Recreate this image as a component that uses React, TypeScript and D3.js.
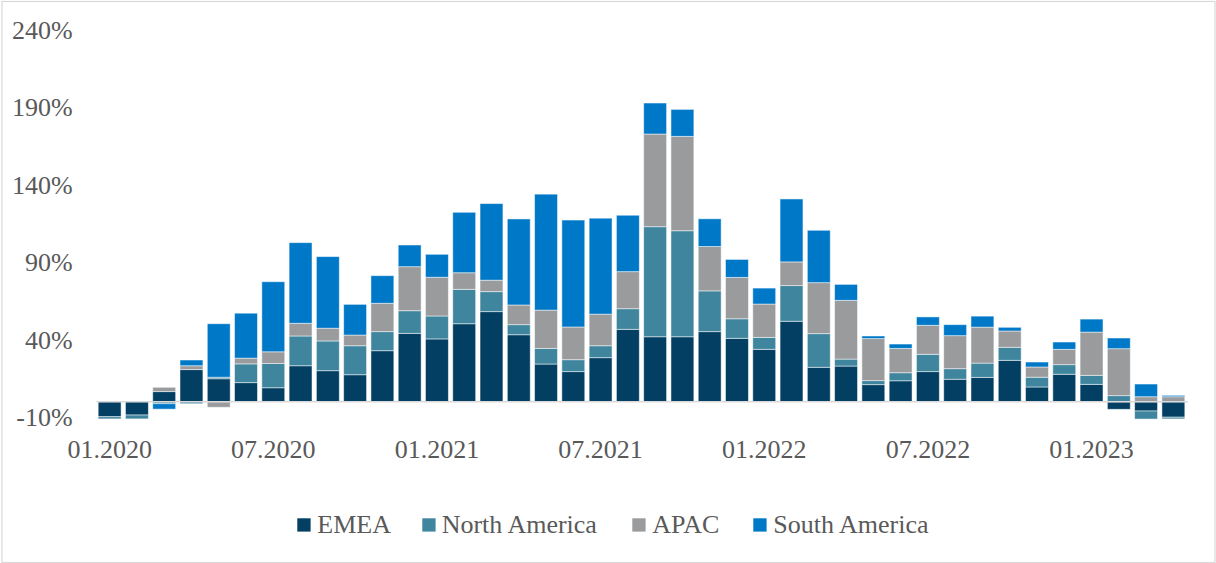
import React, { useMemo } from "react";
import * as d3 from "d3";

// Monthly contribution by region (percent)
const months = [
  "01.2020", "02.2020", "03.2020", "04.2020", "05.2020", "06.2020", "07.2020", "08.2020", "09.2020", "10.2020", "11.2020", "12.2020",
  "01.2021", "02.2021", "03.2021", "04.2021", "05.2021", "06.2021", "07.2021", "08.2021", "09.2021", "10.2021", "11.2021", "12.2021",
  "01.2022", "02.2022", "03.2022", "04.2022", "05.2022", "06.2022", "07.2022", "08.2022", "09.2022", "10.2022", "11.2022", "12.2022",
  "01.2023", "02.2023", "03.2023", "04.2023",
];

const emea = [
  -9.7, -8.6, 6.5, 20.7, 14.8, 12.3, 9.0, 23.2, 20.0, 17.4, 32.9, 44.1,
  40.5, 50.3, 58.1, 43.2, 24.3, 19.4, 28.4, 46.7, 41.9, 41.9, 45.2, 40.9,
  33.8, 51.9, 22.2, 23.0, 11.0, 13.5, 19.4, 14.5, 15.7, 26.7, 9.5, 17.7,
  11.2, -4.9, -6.0, -10.0,
];
const northAmerica = [
  -1.4, -2.5, -1.3, -1.3, 1.0, 12.1, 15.7, 19.2, 19.2, 18.7, 12.3, 14.6,
  14.8, 22.2, 12.9, 6.5, 10.1, 7.7, 7.7, 13.3, 71.0, 68.4, 26.3, 12.6,
  7.7, 23.0, 21.7, 4.5, 2.6, 5.2, 11.2, 6.8, 9.2, 8.4, 6.3, 6.2,
  5.8, 3.9, -5.2, -1.1,
];
const apac = [
  0, 0, 2.8, 2.5, -3.6, 3.7, 7.5, 8.2, 8.2, 6.9, 18.3, 28.4,
  25.0, 10.7, 7.4, 12.7, 24.7, 21.1, 20.4, 23.9, 59.8, 60.9, 28.6, 26.7,
  21.5, 15.3, 32.9, 37.9, 27.1, 15.7, 18.7, 21.3, 23.2, 10.5, 6.6, 9.9,
  27.9, 30.3, 3.2, 3.2,
];
const southAmerica = [
  0, 0, -3.5, 3.7, 34.5, 29.0, 45.2, 52.0, 46.2, 19.8, 17.8, 14.0,
  14.8, 39.0, 49.4, 55.5, 74.8, 69.0, 61.9, 36.4, 20.0, 17.4, 17.9, 11.6,
  10.3, 40.6, 33.8, 10.3, 1.7, 2.8, 5.4, 7.1, 7.1, 2.4, 3.2, 4.7,
  8.4, 6.9, 8.2, 0.9,
];

const seriesNames = ["EMEA", "North America", "APAC", "South America"];
const seriesValues = [emea, northAmerica, apac, southAmerica];
const seriesColors = ["#023f63", "#3f859e", "#9a9b9d", "#0078c8"];

const yTicks = [-10, 40, 90, 140, 190, 240];
const xTickLabels = ["01.2020", "07.2020", "01.2021", "07.2021", "01.2022", "07.2022", "01.2023"];

const W = 1216;
const H = 563;
const FONT = "'Liberation Serif', 'Times New Roman', Times, serif";
const TEXT = "#595959";

export default function App() {
  const rows = useMemo(
    () =>
      months.map((m, i) => {
        const r: Record<string, any> = { month: m };
        seriesNames.forEach((s, k) => (r[s] = seriesValues[k][i]));
        return r;
      }),
    []
  );

  const stacked = useMemo(
    () => d3.stack<any>().keys(seriesNames).offset(d3.stackOffsetDiverging)(rows),
    [rows]
  );

  const x = d3.scaleBand<string>().domain(months).range([96, 1187]).paddingInner(0.16).paddingOuter(0.08);
  const y = d3.scaleLinear().domain([-10, 240]).range([417.2, 29.7]);

  // legend swatch / label x positions
  const legendItems = [
    { sq: 297.3, tx: 317.3 },
    { sq: 422.3, tx: 441.7 },
    { sq: 632.3, tx: 652.3 },
    { sq: 753.3, tx: 773.3 },
  ];

  return (
    <svg
      width={W}
      height={H}
      style={{ position: "absolute", left: 0, top: 0, display: "block", background: "#fff" }}
    >
      <rect x={2} y={1.5} width={1213} height={561} fill="#fff" stroke="#d9d9d9" strokeWidth={1.2} />

      {/* bars */}
      {stacked.map((layer, k) => (
        <g key={seriesNames[k]} fill={seriesColors[k]}>
          {layer.map((d, i) => {
            const y0 = y(d[0]);
            const y1 = y(d[1]);
            const h = Math.abs(y0 - y1);
            if (h < 0.01) return null;
            return (
              <rect
                key={i}
                x={x(months[i])}
                y={Math.min(y0, y1)}
                width={x.bandwidth()}
                height={h}
                stroke="#ffffff"
                strokeOpacity={0.55}
                strokeWidth={0.9}
              />
            );
          })}
        </g>
      ))}

      {/* zero line */}
      <line x1={96.5} x2={1188} y1={y(0)} y2={y(0)} stroke="#d9d9d9" strokeWidth={1.6} />

      {/* y axis labels */}
      {yTicks.map((t) => (
        <text
          key={t}
          x={72.7}
          y={y(t)}
          dy="0.34em"
          textAnchor="end"
          fontFamily={FONT}
          fontSize={26}
          fill={TEXT}
        >
          {`${t}%`}
        </text>
      ))}

      {/* x axis labels */}
      {xTickLabels.map((m) => (
        <text
          key={m}
          x={(x(m) ?? 0) + x.bandwidth() / 2}
          y={458}
          textAnchor="middle"
          fontFamily={FONT}
          fontSize={26}
          fill={TEXT}
        >
          {m}
        </text>
      ))}

      {/* legend */}
      {seriesNames.map((s, k) => (
        <g key={s}>
          <rect x={legendItems[k].sq} y={518.3} width={13.3} height={13.3} fill={seriesColors[k]} />
          <text x={legendItems[k].tx} y={533.3} fontFamily={FONT} fontSize={26} fill={TEXT}>
            {s}
          </text>
        </g>
      ))}
    </svg>
  );
}
